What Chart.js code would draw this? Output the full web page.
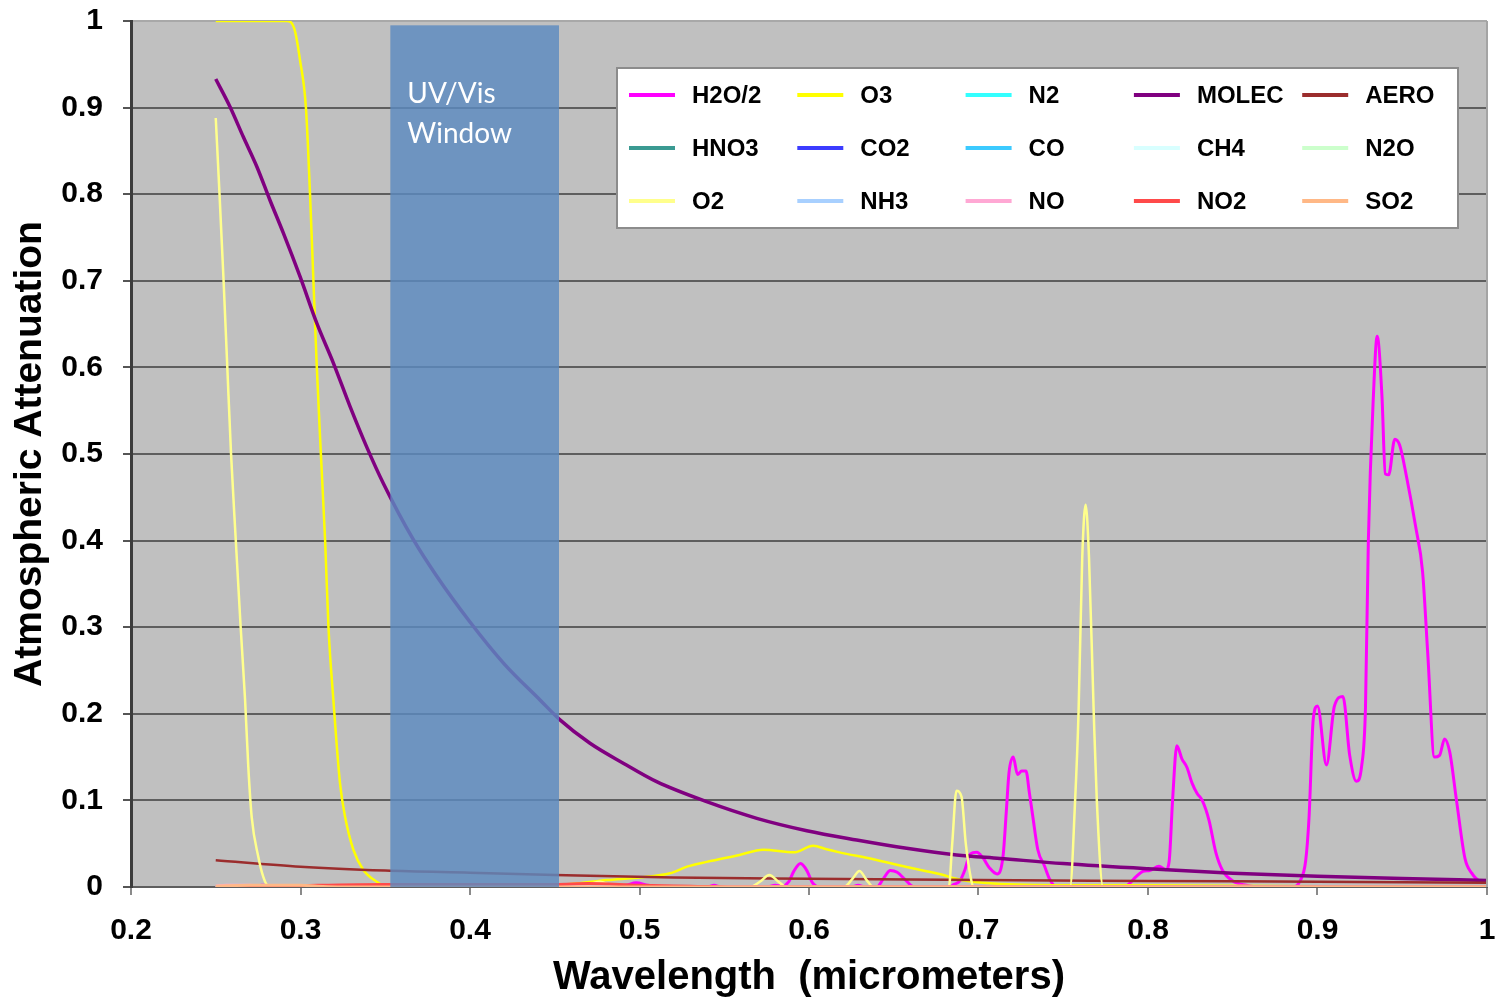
<!DOCTYPE html>
<html>
<head>
<meta charset="utf-8">
<title>Atmospheric Attenuation</title>
<script src="https://cdn.jsdelivr.net/npm/chart.js@4.4.1/dist/chart.umd.min.js"></script>
<style>
  html, body { margin: 0; padding: 0; background: #ffffff; }
  canvas { display: block; }
</style>
</head>
<body>
<canvas id="atten" width="1496" height="1003"></canvas>
<script>
// Series names and colours, in drawing (and legend) order
const seriesNames  = ['H2O/2', 'O3', 'N2', 'MOLEC', 'AERO', 'HNO3', 'CO2', 'CO', 'CH4', 'N2O', 'O2', 'NH3', 'NO', 'NO2', 'SO2'];
const seriesColors = ['#ff00ff', '#ffff00', '#33ffff', '#800080', '#9b2d2d', '#3a9a92', '#3c3cff', '#3ccaff',
                      '#d8ffff', '#ccffcc', '#ffff8c', '#a8d0ff', '#ffa8d4', '#ff4a4a', '#ffb886'];
const seriesWidths = [3, 2.5, 3, 3.5, 2.5, 3, 3, 3, 3, 3, 2.5, 3, 3, 3, 3];

// Wavelength (micrometers) / attenuation pairs per species
const h2oWl  = [0.25,0.274,0.277,0.279,0.282,0.48,0.492,0.498,0.505,0.515,0.54,0.544,0.548,
                0.575,0.58,0.584,0.588,0.591,0.595,0.599,0.602,0.606,0.625,0.629,0.633,
                0.64,0.644,0.648,0.652,0.657,0.662,
                0.683,0.6855,0.689,0.692,0.695,0.699,0.7025,0.7065,0.711,0.7145,0.7165,0.718,0.7205,0.723,0.7255,0.728,0.73,0.732,0.735,0.739,0.742,0.746,
                0.786,0.789,0.793,0.797,0.801,0.8065,0.8105,0.8125,0.8145,0.817,0.82,0.823,0.826,0.829,0.832,0.836,0.84,0.844,0.85,0.858,0.865,
                0.885,0.89,0.893,0.895,0.8975,0.9,0.9053,0.91,0.915,0.919,0.923,0.926,0.9283,0.93,0.933,0.9352,0.938,0.94,0.942,0.9456,0.9485,0.9525,0.958,0.962,0.965,0.969,0.972,0.975,0.978,0.982,0.987,0.991,0.9957,1.0];
const h2oAtt = [0,0,0.002,0.002,0,0,0.002,0.005,0.002,0,0,0.002,0,
                0,0.002,0.001,0.006,0.018,0.027,0.018,0.005,0,0,0.002,0,
                0,0.01,0.019,0.017,0.008,0,
                0,0.003,0.007,0.02,0.038,0.04,0.034,0.022,0.015,0.036,0.09,0.132,0.15,0.13,0.134,0.134,0.109,0.082,0.043,0.024,0.009,0,
                0,0.004,0.012,0.018,0.019,0.024,0.02,0.03,0.1,0.163,0.148,0.138,0.12,0.108,0.1,0.077,0.04,0.019,0.007,0.002,0,
                0,0.008,0.03,0.08,0.194,0.209,0.141,0.209,0.22,0.152,0.122,0.139,0.207,0.4,0.568,0.636,0.568,0.477,0.476,0.517,0.51,0.474,0.415,0.364,0.271,0.15,0.152,0.171,0.156,0.1,0.033,0.016,0.007,0.006];

const o3Wl  = [0.25,0.292,0.2965,0.2997,0.3032,0.3056,0.3076,0.3096,0.312,0.3145,0.3165,0.3194,0.3233,0.3263,0.3312,
               0.337,0.345,0.35,0.40,0.45,0.4629,0.4806,0.5,0.518,0.528,0.5396,0.559,0.573,0.591,0.6025,
               0.6104,0.618,0.638,0.6576,0.677,0.69,0.709,0.75,0.8,0.9,1.0];
const o3Att = [1,1,0.99,0.955,0.9,0.801,0.701,0.601,0.501,0.401,0.3,0.216,0.12,0.081,0.043,
               0.02,0.006,0.001,0.001,0.002,0.004,0.008,0.011,0.0158,0.0235,0.029,0.037,0.043,0.04,0.0477,
               0.0435,0.04,0.032,0.023,0.015,0.008,0.004,0.002,0.002,0.001,0.001];

const molecWl  = [0.25,0.2584,0.2663,0.2742,0.282,0.2899,0.2997,0.3096,0.3194,0.3292,0.3391,0.3489,0.3666,0.38,0.40,0.42,0.4413,
                  0.4531,0.4708,0.4904,0.5101,0.5396,0.5692,0.5987,0.6281,0.6576,0.6871,0.7127,0.75,0.8,0.85,0.9,0.95,1.0];
const molecAtt = [0.933,0.901,0.866,0.832,0.793,0.755,0.705,0.651,0.605,0.555,0.508,0.466,0.401,0.36,0.306,0.258,0.216,
                  0.193,0.166,0.143,0.1216,0.0985,0.0793,0.065,0.0543,0.0447,0.037,0.033,0.027,0.021,0.016,0.0125,0.0098,0.0075];

const aeroWl  = [0.25,0.30,0.35,0.40,0.45,0.52,0.6,0.7,0.8,0.9,1.0];
const aeroAtt = [0.031,0.0235,0.019,0.0165,0.014,0.011,0.0095,0.008,0.007,0.006,0.005];

const o2Wl  = [0.25,0.2522,0.2546,0.2568,0.259,0.2618,0.2647,0.2673,0.2692,0.2712,0.2751,0.278,0.2805,0.285,
               0.46,0.47,0.4767,0.483,0.49,0.565,0.571,0.5766,0.582,0.5868,0.6206,0.6255,0.6298,0.634,0.638,
               0.6825,0.6845,0.687,0.69,0.6925,0.6955,0.697,0.754,0.757,0.759,0.7612,0.7632,0.7652,0.768,0.7698,0.7735,1.0];
const o2Att = [0.888,0.801,0.701,0.601,0.501,0.401,0.30,0.216,0.139,0.081,0.035,0.012,0.002,0,
               0,0.003,0.006,0.002,0,0,0.006,0.0138,0.006,0,0,0.009,0.0185,0.008,0,
               0,0.05,0.111,0.104,0.05,0.01,0,0,0.1,0.2,0.38,0.4415,0.38,0.2,0.1,0,0];

const no2Wl  = [0.25,0.28,0.31,0.35,0.40,0.45,0.47,0.50,0.53,0.56,1.0];
const no2Att = [0,0.0005,0.002,0.003,0.003,0.003,0.004,0.002,0.001,0,0];
const so2Wl  = [0.25,0.27,0.30,0.31,0.33,1.0];
const so2Att = [0.001,0.002,0.002,0.001,0,0];
const noWl   = [0.25,0.256,0.27,0.282,1.0];
const noAtt  = [0.001,0.002,0.002,0,0];
const flatWl  = [0.25,1.0];
const flatAtt = [0,0];

// Axis ticks and the highlighted UV/Vis window
const xTicks = [0.2,0.3,0.4,0.5,0.6,0.7,0.8,0.9,1.0];
const yTicks = [0,0.1,0.2,0.3,0.4,0.5,0.6,0.7,0.8,0.9,1];
const windowRange = [0.353, 0.4525];
const windowTop = 0.995;
const windowLabel = ['UV/Vis', 'Window'];

const seriesData = {
  'H2O/2': [h2oWl, h2oAtt], 'O3': [o3Wl, o3Att], 'N2': [flatWl, flatAtt], 'MOLEC': [molecWl, molecAtt],
  'AERO': [aeroWl, aeroAtt], 'HNO3': [flatWl, flatAtt], 'CO2': [flatWl, flatAtt], 'CO': [flatWl, flatAtt],
  'CH4': [flatWl, flatAtt], 'N2O': [flatWl, flatAtt], 'O2': [o2Wl, o2Att], 'NH3': [flatWl, flatAtt],
  'NO': [noWl, noAtt], 'NO2': [no2Wl, no2Att], 'SO2': [so2Wl, so2Att]
};

const toPoints = (xs, ys) => xs.map((v, i) => ({ x: v, y: ys[i] }));

const datasets = seriesNames.map((name, i) => ({
  label: name,
  data: toPoints(seriesData[name][0], seriesData[name][1]),
  borderColor: seriesColors[i],
  backgroundColor: seriesColors[i],
  borderWidth: seriesWidths[i],
  pointRadius: 0,
  fill: false,
  cubicInterpolationMode: 'monotone',
  order: seriesNames.length - i   // later species are painted over earlier ones
}));

const BOLD = '"Liberation Sans", Arial, sans-serif';

const fmtTick = v => {
  const r = Math.round(v * 10) / 10;
  return (r === 0 || r === 1) ? String(r) : r.toFixed(1);
};

// Plot background, UV/Vis window band, frame and legend box
const decor = {
  id: 'decor',
  beforeDraw(chart) {
    const { ctx, chartArea: a } = chart;
    ctx.save();
    ctx.fillStyle = '#c0c0c0';
    ctx.fillRect(a.left, a.top, a.right - a.left, a.bottom - a.top);
    ctx.restore();
  },
  afterDatasetsDraw(chart) {
    const { ctx, chartArea: a, scales: { x, y } } = chart;
    ctx.save();

    // UV/Vis window
    const x0 = x.getPixelForValue(windowRange[0]);
    const x1 = x.getPixelForValue(windowRange[1]);
    const yt = y.getPixelForValue(windowTop);
    const yb = y.getPixelForValue(0);
    ctx.fillStyle = 'rgba(92,138,192,0.82)';
    ctx.fillRect(x0, yt, x1 - x0, yb - yt);
    ctx.fillStyle = '#ffffff';
    ctx.font = '28px Lato, "Open Sans", sans-serif';
    ctx.textAlign = 'left';
    ctx.textBaseline = 'middle';
    windowLabel.forEach((t, i) => ctx.fillText(t, x0 + 17, a.top + 73 + i * 40));

    // right-hand frame
    ctx.strokeStyle = '#a4a4a4';
    ctx.lineWidth = 2;
    ctx.beginPath();
    ctx.moveTo(a.right, a.top);
    ctx.lineTo(a.right, a.bottom);
    ctx.stroke();

    // legend: 5 columns x 3 rows
    const bx = a.left + 486, by = a.top + 47, bw = 841, bh = 160;
    ctx.fillStyle = '#ffffff';
    ctx.fillRect(bx, by, bw, bh);
    ctx.strokeStyle = '#8c8c8c';
    ctx.lineWidth = 2;
    ctx.strokeRect(bx, by, bw, bh);
    ctx.font = 'bold 24px ' + BOLD;
    ctx.textBaseline = 'middle';
    chart.data.datasets.forEach((ds, i) => {
      const col = i % 5, row = Math.floor(i / 5);
      const lx = bx + 12 + col * 168.3;
      const ly = by + 27 + row * 53;
      ctx.strokeStyle = ds.borderColor;
      ctx.lineWidth = 4;
      ctx.beginPath();
      ctx.moveTo(lx, ly);
      ctx.lineTo(lx + 46, ly);
      ctx.stroke();
      ctx.fillStyle = '#000000';
      ctx.fillText(ds.label, lx + 63, ly + 1);
    });
    ctx.restore();
  }
};

new Chart(document.getElementById('atten'), {
  type: 'line',
  data: { datasets },
  plugins: [decor],
  options: {
    responsive: false,
    animation: false,
    devicePixelRatio: 1,
    layout: { padding: { top: 21, right: 9, left: 0, bottom: 0 } },
    plugins: { legend: { display: false }, tooltip: { enabled: false } },
    scales: {
      x: {
        type: 'linear',
        min: 0.2,
        max: 1.0,
        afterBuildTicks: s => { s.ticks = xTicks.map(v => ({ value: v })); },
        afterFit: s => { s.height = 116; s.paddingLeft = 0; s.paddingRight = 0; },
        ticks: {
          callback: fmtTick,
          color: '#000000',
          padding: 18,
          maxRotation: 0,
          font: { family: BOLD, size: 30, weight: 'bold' }
        },
        grid: { drawOnChartArea: false, drawTicks: true, tickLength: 8, color: '#8a8a8a', lineWidth: 2 },
        border: { display: true, color: '#5e5e5e', width: 2 },
        title: {
          display: true,
          text: 'Wavelength  (micrometers)',
          color: '#000000',
          font: { family: BOLD, size: 40, weight: 'bold' },
          padding: { top: 0, bottom: 1 }
        }
      },
      y: {
        min: 0,
        max: 1,
        afterBuildTicks: s => { s.ticks = yTicks.map(v => ({ value: v })); },
        afterFit: s => { s.width = 131; s.paddingTop = 0; s.paddingBottom = 0; },
        ticks: {
          callback: fmtTick,
          color: '#000000',
          padding: 20,
          font: { family: BOLD, size: 30, weight: 'bold' }
        },
        grid: {
          drawTicks: true,
          tickLength: 8,
          lineWidth: 2,
          color: c => (c.tick && c.tick.value === 1) ? '#a8a8a8' : '#5e5e5e',
          tickColor: '#555555'
        },
        border: { display: true, color: '#3c3c3c', width: 3 },
        title: {
          display: true,
          text: 'Atmospheric Attenuation',
          color: '#000000',
          font: { family: BOLD, size: 39, weight: 'bold' },
          padding: { top: 7, bottom: 0 }
        }
      }
    }
  }
});
</script>
</body>
</html>
